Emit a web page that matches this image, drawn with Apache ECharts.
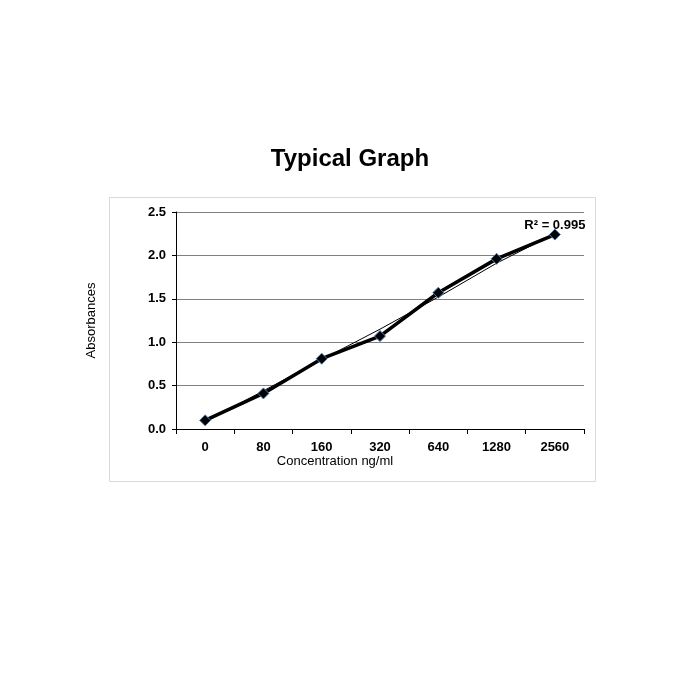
<!DOCTYPE html>
<html>
<head>
<meta charset="utf-8">
<script src="https://cdn.jsdelivr.net/npm/echarts@6/dist/echarts.min.js"></script>
<style>html,body{margin:0;background:#fff}#chart{width:700px;height:700px}</style>
</head>
<body>
<div id="chart"></div>
<script>
var categories = ['0', '80', '160', '320', '640', '1280', '2560'];
var absorbance = [0.10, 0.41, 0.81, 1.07, 1.57, 1.96, 2.24];
var trend = [0.08, 0.44, 0.80, 1.15, 1.52, 1.91, 2.25];
var yTicks = [0, 0.5, 1.0, 1.5, 2.0, 2.5];

var option = {
    backgroundColor: '#FFFFFF',
    animation: false,
    title: {
        text: 'Typical Graph',
        left: 'center',
        top: 142,
        textStyle: { color: '#000', fontWeight: 'bold', fontSize: 24, fontFamily: 'Liberation Sans' }
    },
    graphic: [{
        type: 'rect',
        shape: { x: 109.5, y: 197.5, width: 486, height: 284 },
        style: { fill: 'none', stroke: '#d9d9d9', lineWidth: 1 }
    }],
    grid: { left: 176, right: 116, top: 212, bottom: 271 },
    xAxis: {
        type: 'category',
        data: categories,
        boundaryGap: true,
        name: 'Concentration ng/ml',
        nameLocation: 'middle',
        nameGap: 26,
        nameTextStyle: { color: '#000', fontSize: 13, fontFamily: 'Liberation Sans', padding: [0, 90, 0, 0] },
        axisLine: { lineStyle: { color: '#000' } },
        axisTick: { show: true, length: 5, lineStyle: { color: '#000' } },
        axisLabel: { color: '#000', fontWeight: 'bold', fontSize: 13, fontFamily: 'Liberation Sans', margin: 12 }
    },
    yAxis: {
        type: 'value',
        min: 0, max: 2.5, interval: 0.5,
        name: 'Absorbances',
        nameLocation: 'middle',
        nameGap: 78,
        nameTextStyle: { color: '#000', fontSize: 13, fontFamily: 'Liberation Sans' },
        axisLine: { show: true, lineStyle: { color: '#000' } },
        axisTick: { show: true, length: 4, inside: false, lineStyle: { color: '#000' } },
        axisLabel: {
            color: '#000', fontWeight: 'bold', fontSize: 13, fontFamily: 'Liberation Sans', margin: 10,
            formatter: function (v) { return yTicks.indexOf(v) >= 0 ? v.toFixed(1) : ''; }
        },
        splitLine: { lineStyle: { color: '#808080' } }
    },
    series: [{
        name: 'Trend',
        type: 'line',
        data: trend,
        symbol: 'none',
        lineStyle: { color: '#000', width: 1 },
        z: 1
    }, {
        name: 'Absorbance',
        type: 'line',
        data: absorbance,
        symbol: 'diamond',
        symbolSize: 11,
        itemStyle: { color: '#000', borderColor: '#4a7ebb', borderWidth: 1 },
        lineStyle: { color: '#000', width: 3.5 },
        markPoint: {
            symbol: 'rect', symbolSize: 1,
            data: [{ coord: [5.5, 2.35] }],
            label: {
                show: true, formatter: 'R² = 0.995', color: '#000', fontWeight: 'bold',
                fontSize: 13, fontFamily: 'Liberation Sans'
            },
            itemStyle: { color: 'transparent' }
        },
        z: 3
    }]
};
var myChart = echarts.init(document.getElementById('chart'));
myChart.setOption(option);
</script>
</body>
</html>
